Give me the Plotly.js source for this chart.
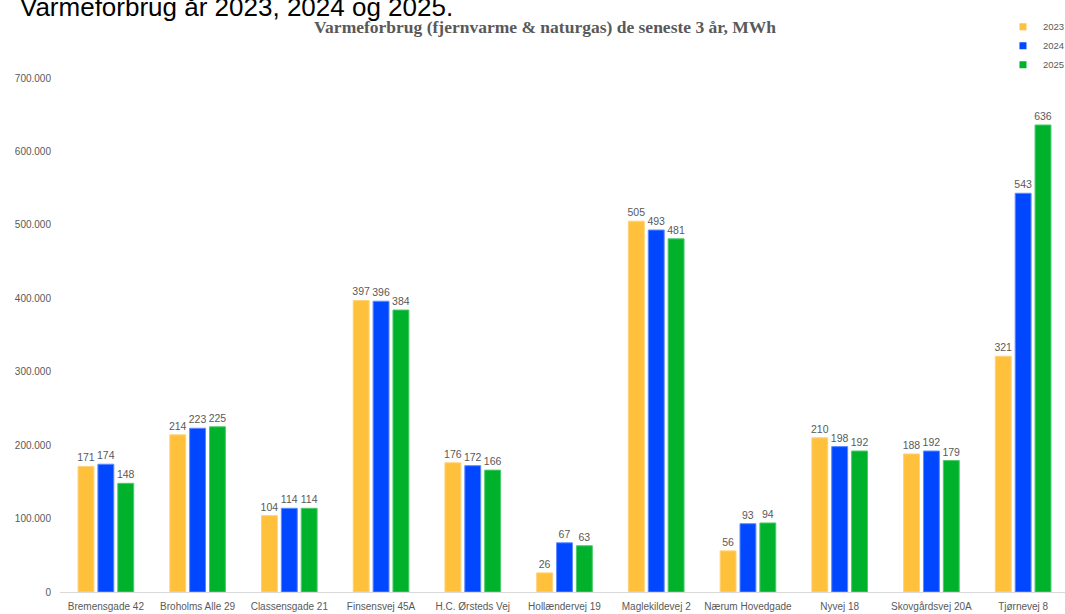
<!DOCTYPE html>
<html>
<head>
<meta charset="utf-8">
<script src="https://cdn.plot.ly/plotly-3.0.1.min.js"></script>
<style>
html,body{margin:0;padding:0;overflow:hidden;background:#fff;}
#chart{width:1075px;height:614px;}
</style>
</head>
<body>
<div id="chart"></div>
<script>
const categories = ["Bremensgade 42","Broholms Alle 29","Classensgade 21","Finsensvej 45A","H.C. Ørsteds Vej","Hollændervej 19","Maglekildevej 2","Nærum Hovedgade","Nyvej 18","Skovgårdsvej 20A","Tjørnevej 8"];
const years = ["2023","2024","2025"];
const values2023 = [171000,214000,104000,397000,176000,26000,505000,56000,210000,188000,321000];
const values2024 = [174000,223000,114000,396000,172000,67000,493000,93000,198000,192000,543000];
const values2025 = [148000,225000,114000,384000,166000,63000,481000,94000,192000,179000,636000];
const yTicks = [0,100000,200000,300000,400000,500000,600000,700000];

const colors = ["#FFC03C","#0047FF","#00B22B"];
const lineColors = ["#FFD27A","#5C8BFF","#4CCB6B"];
const series = [values2023, values2024, values2025];

const traces = [];
series.forEach((vals, i) => {
  traces.push({
    type: "bar",
    name: years[i],
    x: categories,
    y: vals,
    text: vals.map(v => String(Math.round(v/1000))),
    textposition: "outside",
    constraintext: "none",
    cliponaxis: false,
    textfont: {family: "Liberation Sans, Arial, sans-serif", size: 10.5, color: "#595959"},
    marker: {color: colors[i], line: {color: lineColors[i], width: 1}},
    showlegend: false,
    hoverinfo: "x+y"
  });
});
series.forEach((vals, i) => {
  traces.push({
    type: "scatter",
    mode: "markers",
    name: years[i],
    x: [null], y: [null],
    marker: {symbol: "square", size: 7, color: colors[i]},
    showlegend: true,
    hoverinfo: "skip"
  });
});

const layout = {
  width: 1075,
  height: 614,
  margin: {l: 60, r: 6, t: 78, b: 22, autoexpand: false},
  paper_bgcolor: "#ffffff",
  plot_bgcolor: "#ffffff",
  separators: ",.",
  barmode: "group",
  bargap: 0.35,
  bargroupgap: 0.2,
  title: {
    text: "Varmeforbrug (fjernvarme & naturgas) de seneste 3 år, MWh",
    font: {family: "Liberation Serif, Times New Roman, serif", size: 17.5, color: "#595959", weight: "bold"},
    xref: "container", x: 0.507, xanchor: "center",
    yref: "container", y: 0.956, yanchor: "middle"
  },
  xaxis: {
    type: "category",
    showline: true, linecolor: "#D9D9D9", linewidth: 1,
    showgrid: false, zeroline: false, ticks: "",
    ticklabelstandoff: 5,
    tickfont: {family: "Liberation Sans, Arial, sans-serif", size: 10, color: "#595959"}
  },
  yaxis: {
    range: [0, 700000],
    tickvals: yTicks,
    tickformat: ",d",
    showgrid: false, zeroline: false, showline: false, ticks: "",
    ticklabelstandoff: 8,
    tickfont: {family: "Liberation Sans, Arial, sans-serif", size: 10, color: "#595959"}
  },
  legend: {
    xref: "container", yref: "container",
    x: 0.933, xanchor: "left",
    y: 0.980, yanchor: "top",
    font: {family: "Liberation Sans, Arial, sans-serif", size: 9.5, color: "#595959"},
    itemwidth: 30,
    bgcolor: "rgba(0,0,0,0)",
    tracegroupgap: 0
  },
  annotations: [{
    text: "Varmeforbrug år 2023, 2024 og 2025.",
    xref: "paper", yref: "paper",
    x: -0.042, xanchor: "left",
    y: 1.138, yanchor: "middle",
    showarrow: false,
    font: {family: "Liberation Sans, Arial, sans-serif", size: 26, color: "#000000"}
  }]
};

Plotly.newPlot("chart", traces, layout, {displayModeBar: false, staticPlot: true});
</script>
</body>
</html>
